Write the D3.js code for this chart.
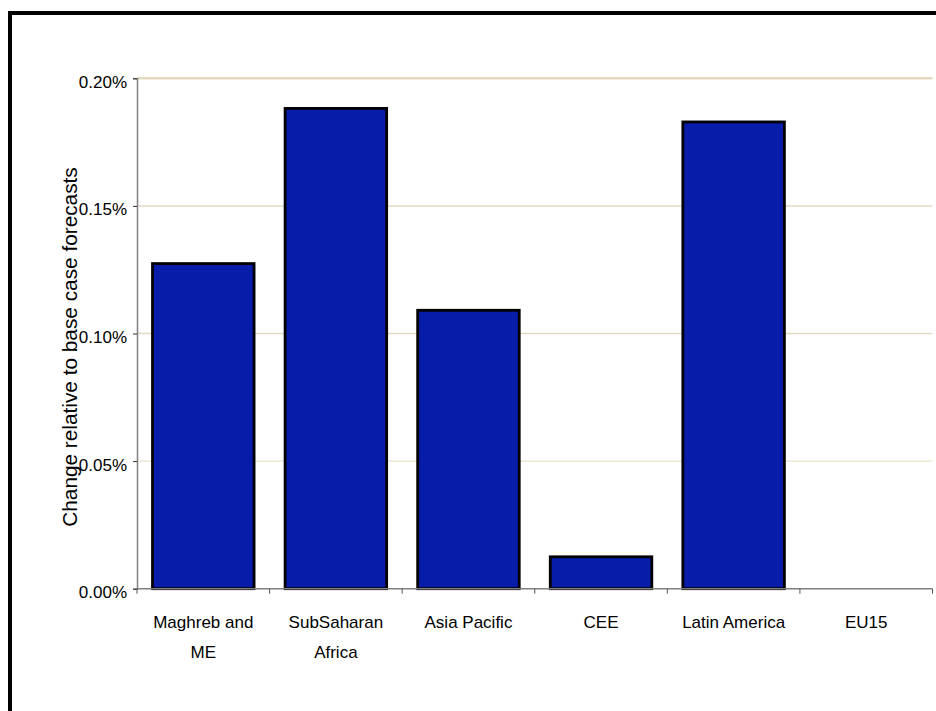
<!DOCTYPE html>
<html><head><meta charset="utf-8">
<script src="https://cdn.jsdelivr.net/npm/d3@7"></script>
<style>body{margin:0;background:#fff}svg{display:block}text{font-family:"Liberation Sans",Arial,sans-serif;fill:#000}</style>
</head><body>
<script>
const categories = [["Maghreb and","ME"],["SubSaharan","Africa"],["Asia Pacific"],["CEE"],["Latin America"],["EU15"]];
const values = [0.1274, 0.1882, 0.1091, 0.0125, 0.1829, 0];
const yTicks = [0, 0.05, 0.10, 0.15, 0.20];
const yTitle = "Change relative to base case forecasts";

const W = 936, H = 711;
const svg = d3.select("body").append("svg").attr("width", W).attr("height", H);

// outer frame
svg.append("rect").attr("x",10).attr("y",13).attr("width",W+20).attr("height",H+20)
  .attr("fill","none").attr("stroke","#000").attr("stroke-width",4);

const x0 = 137, x1 = 932.5, yB = 588.7, yT = 78.3;
const x = d3.scaleBand().domain(d3.range(categories.length)).range([x0, x1]).paddingInner(0.234).paddingOuter(0.117);
const y = d3.scaleLinear().domain([0, 0.20]).range([yB, yT]);

// gridlines
svg.append("g").selectAll("line").data(yTicks.filter(d=>d>0)).join("line")
  .attr("x1", x0).attr("x2", x1).attr("y1", d=>y(d)).attr("y2", d=>y(d))
  .attr("stroke","#e4dac2").attr("stroke-width", d=> d>=0.2?2.5:(d<0.06?1:1.5));

// bars
svg.append("g").selectAll("rect").data(values).join("rect")
  .filter(d=>d>0)
  .attr("x", (d,i)=>x(i)).attr("width", x.bandwidth())
  .attr("y", d=>y(d)).attr("height", d=>yB - y(d))
  .attr("fill","#071ca8").attr("stroke","#000").attr("stroke-width",2.8);

// y axis
const yAxis = d3.axisLeft(y).tickValues(yTicks).tickSize(4).tickPadding(6)
  .tickFormat(d=>d3.format(".2f")(d)+"%");
const gy = svg.append("g").attr("transform",`translate(${x0},0)`).call(yAxis);
gy.select(".domain").attr("stroke","#808080").attr("stroke-width",1.5);
gy.selectAll(".tick line").attr("stroke","#333");
gy.selectAll(".tick text").attr("font-size","17px").attr("dy","0.53em")
  .attr("font-family","Liberation Sans, Arial, sans-serif");

// x axis
const xEdge = d3.scaleLinear().domain([0, categories.length]).range([x0, x1]);
const gx = svg.append("g");
gx.append("line").attr("x1",x0).attr("x2",x1).attr("y1",yB).attr("y2",yB)
  .attr("stroke","#808080").attr("stroke-width",1.5);
gx.selectAll("line.t").data(d3.range(categories.length+1)).join("line").attr("class","t")
  .attr("x1",d=>xEdge(d)).attr("x2",d=>xEdge(d)).attr("y1",yB).attr("y2",yB+5)
  .attr("stroke","#555").attr("stroke-width",1);
const lbl = gx.selectAll("text").data(categories).join("text")
  .attr("text-anchor","middle").attr("font-size","17px")
  .attr("transform",(d,i)=>`translate(${x(i)+x.bandwidth()/2},627.5)`);
lbl.selectAll("tspan").data(d=>d).join("tspan")
  .attr("x",0).attr("y",(d,i)=>i*30).text(d=>d);

// y title
svg.append("text").attr("text-anchor","middle").attr("font-size","20.8px")
  .attr("transform","translate(76.5,347) rotate(-90)").text(yTitle);
</script>
</body></html>
